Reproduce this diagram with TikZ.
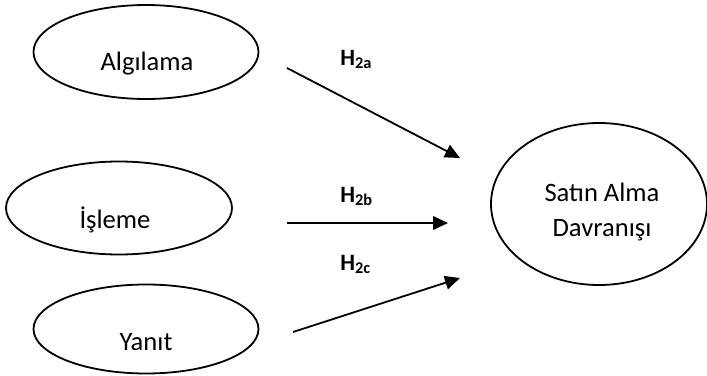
\documentclass[tikz,border=0pt]{standalone}
\usepackage{fontspec}
\setmainfont{Carlito}
\usetikzlibrary{shapes.geometric,arrows.meta}

\begin{document}
\begin{tikzpicture}[x=0.5pt,y=-0.5pt]
\tikzset{oval/.style={draw,ellipse,line width=0.9pt,inner sep=0pt},
  word/.style={anchor=base,inner sep=0pt,font=\fontsize{13.3}{17.5}\selectfont},
  hyp/.style={anchor=base west,inner sep=0pt,font=\fontsize{11.7}{14}\selectfont\bfseries},
  link/.style={line width=0.9pt,-{Triangle[length=7.5pt,width=6.8pt]}}}
\useasboundingbox (0,0) rectangle (707,375);
% dimensions
\node[oval,minimum width=112.5pt,minimum height=47pt] (alg) at (146,52) {};
\node[oval,minimum width=113pt,minimum height=46.5pt] (isl) at (119,208) {};
\node[oval,minimum width=112.5pt,minimum height=44.5pt] (yan) at (146,329) {};
\node[oval,minimum width=108pt,minimum height=81pt] (sat) at (599,204) {};
\node[word] (algt) at (147,70.7) {Algılama};
\node[word] (islt) at (115,228) {İşleme};
\node[word] (yant) at (146,350) {Yanıt};
\node[word,anchor=center,align=center] (satt) at (602,212) {Satın Alma\\Davranışı};
% paths
\coordinate (a1) at (287,68);
\coordinate (a2) at (460,158);
\coordinate (b1) at (287,223);
\coordinate (b2) at (448,223);
\coordinate (c1) at (293,332);
\coordinate (c2) at (460,278);
\draw[link] (a1) -- (a2);
\draw[link] (b1) -- (b2);
\draw[link] (c1) -- (c2);
\node[hyp] (ha) at (340,65) {H\textsubscript{2a}};
\node[hyp] (hb) at (340,202) {H\textsubscript{2b}};
\node[hyp] (hc) at (340,270) {H\textsubscript{2c}};
\end{tikzpicture}
\end{document}
